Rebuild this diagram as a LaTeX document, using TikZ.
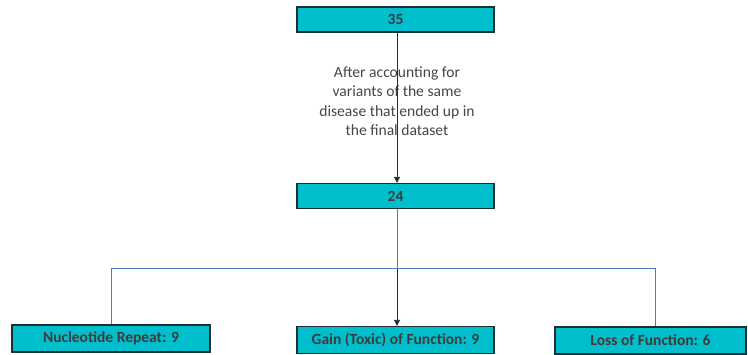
\documentclass[tikz,border=0pt]{standalone}
\usepackage{fontspec}
\setmainfont{Carlito}
\usetikzlibrary{arrows.meta}
\definecolor{boxfill}{RGB}{0,190,204}
\definecolor{boxline}{RGB}{28,48,52}
\definecolor{boxtext}{RGB}{60,60,60}
\definecolor{linkblue}{RGB}{68,128,192}
\definecolor{notegray}{RGB}{70,70,70}
\tikzset{
  countbox/.style={draw=boxline, fill=boxfill, line width=1.3pt, minimum height=25pt,
    inner sep=0pt, text=boxtext, font=\fontsize{15.5}{17}\selectfont\bfseries},
  darklink/.style={boxline, line width=0.9pt, -{Triangle[length=6pt,width=6pt]}},
  bluelink/.style={linkblue, line width=0.9pt}
}

\begin{document}
\begin{tikzpicture}[x=1pt,y=-1pt]
        \useasboundingbox (0,0) rectangle (748,355);

        % Counts
        \node[countbox, minimum width=197pt] (top) at (395.5, 19.5) {35};
        \node[countbox, minimum width=197pt] (mid) at (395.5, 196) {24};

        % Categories
        \node[countbox, minimum width=198pt, minimum height=27pt] (repeat) at (111, 338.5) {Nucleotide Repeat: 9};
        \node[countbox, minimum width=197pt, minimum height=27pt] (gain) at (395.5, 340) {Gain (Toxic) of Function: 9};
        \node[countbox, minimum width=191pt, minimum height=27pt] (loss) at (650.5, 340.5) {Loss of Function: 6};

        % Note on the first step
        \node[align=center, text=notegray, font=\fontsize{15.6}{19.5}\selectfont] (note) at (397, 101)
            {After accounting for\\variants of the same\\disease that ended up in\\the final dataset};

        \draw[darklink] (top.south -| 397,0) -- (mid.north -| 397,0);

        % Split into categories
        \draw[darklink] (mid.south -| 397,0) -- (gain.north -| 397,0);
        \coordinate (split) at (397, 268);
        \draw[bluelink] (mid.south -| split) -- (split);
        \draw[bluelink] (split) -| (repeat.north);
        \draw[bluelink] (split) -| (loss.north -| 655,0);
    \end{tikzpicture}
\end{document}
